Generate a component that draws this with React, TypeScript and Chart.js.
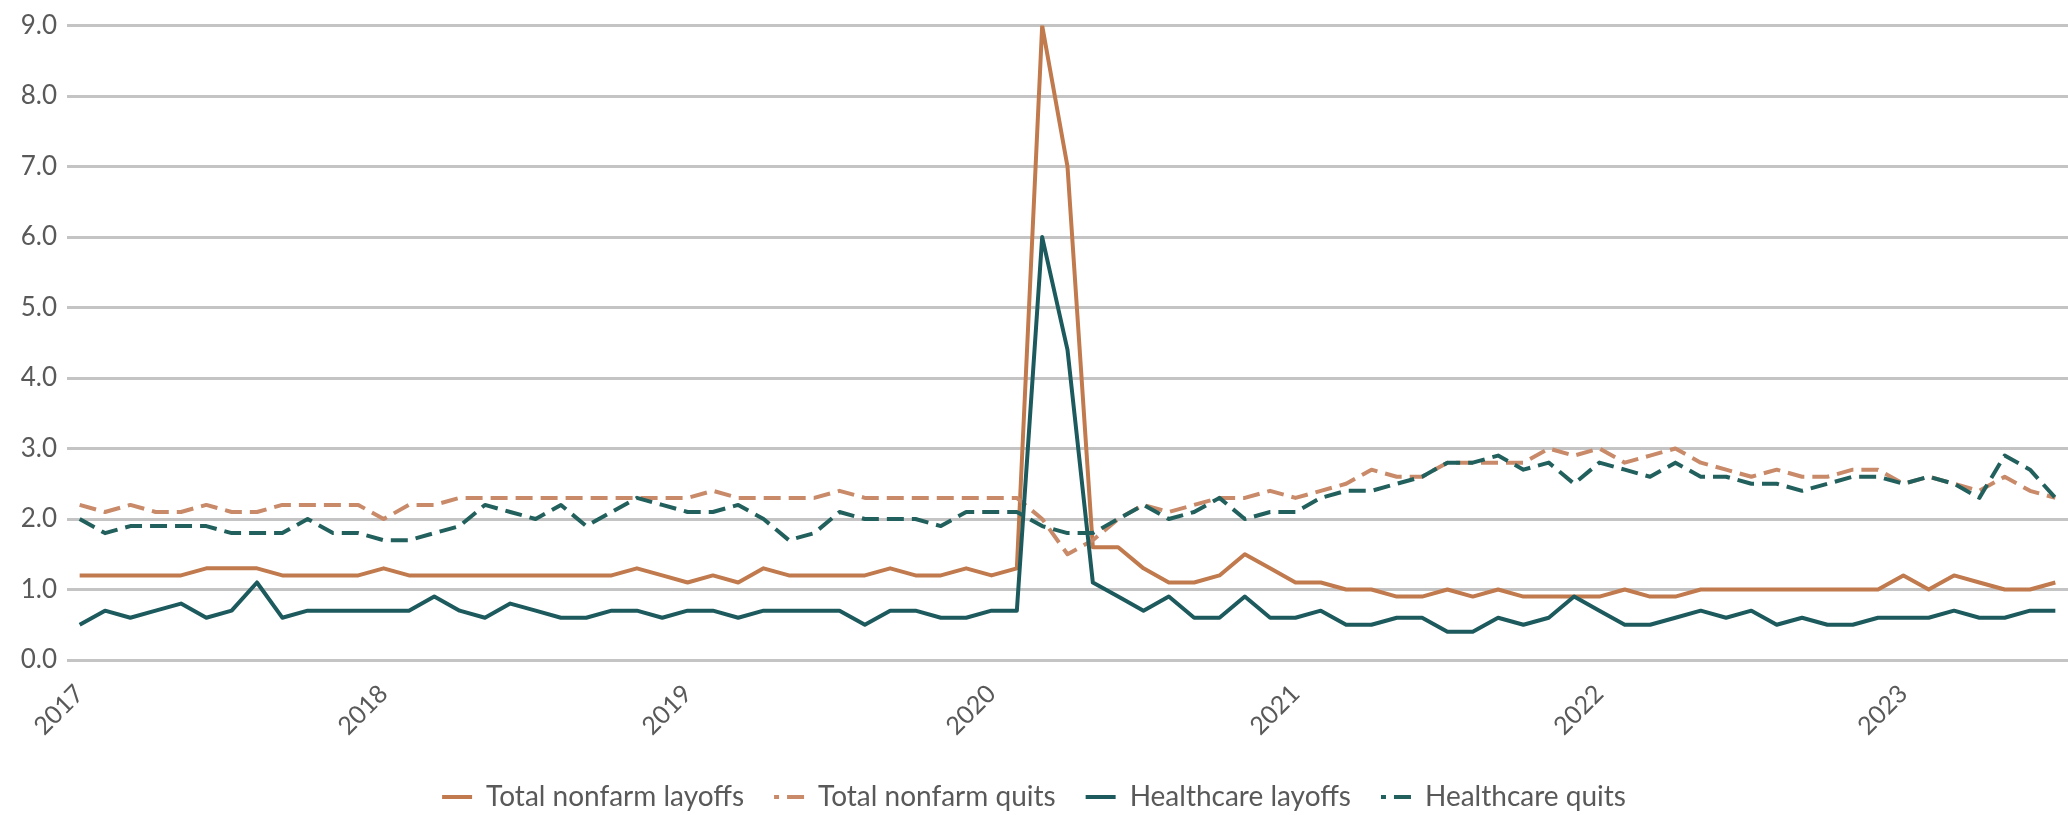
import { useEffect, useRef } from 'react';
import { Chart, registerables } from 'chart.js';

Chart.register(...registerables);

// Monthly rates (%), January 2017 through July 2023
const START_YEAR = 2017;
const MONTH_COUNT = 79;
const monthLabels: string[] = Array.from(
  { length: MONTH_COUNT },
  (_, i) => `${START_YEAR + Math.floor(i / 12)}-${String((i % 12) + 1).padStart(2, '0')}`
);

const totalNonfarmLayoffs = [
  1.2, 1.2, 1.2, 1.2, 1.2, 1.3, 1.3, 1.3, 1.2, 1.2, 1.2, 1.2,
  1.3, 1.2, 1.2, 1.2, 1.2, 1.2, 1.2, 1.2, 1.2, 1.2, 1.3, 1.2,
  1.1, 1.2, 1.1, 1.3, 1.2, 1.2, 1.2, 1.2, 1.3, 1.2, 1.2, 1.3,
  1.2, 1.3, 9.0, 7.0, 1.6, 1.6, 1.3, 1.1, 1.1, 1.2, 1.5, 1.3,
  1.1, 1.1, 1.0, 1.0, 0.9, 0.9, 1.0, 0.9, 1.0, 0.9, 0.9, 0.9,
  0.9, 1.0, 0.9, 0.9, 1.0, 1.0, 1.0, 1.0, 1.0, 1.0, 1.0, 1.0,
  1.2, 1.0, 1.2, 1.1, 1.0, 1.0, 1.1,
];

const totalNonfarmQuits = [
  2.2, 2.1, 2.2, 2.1, 2.1, 2.2, 2.1, 2.1, 2.2, 2.2, 2.2, 2.2,
  2.0, 2.2, 2.2, 2.3, 2.3, 2.3, 2.3, 2.3, 2.3, 2.3, 2.3, 2.3,
  2.3, 2.4, 2.3, 2.3, 2.3, 2.3, 2.4, 2.3, 2.3, 2.3, 2.3, 2.3,
  2.3, 2.3, 2.0, 1.5, 1.7, 2.0, 2.2, 2.1, 2.2, 2.3, 2.3, 2.4,
  2.3, 2.4, 2.5, 2.7, 2.6, 2.6, 2.8, 2.8, 2.8, 2.8, 3.0, 2.9,
  3.0, 2.8, 2.9, 3.0, 2.8, 2.7, 2.6, 2.7, 2.6, 2.6, 2.7, 2.7,
  2.5, 2.6, 2.5, 2.4, 2.6, 2.4, 2.3,
];

const healthcareLayoffs = [
  0.5, 0.7, 0.6, 0.7, 0.8, 0.6, 0.7, 1.1, 0.6, 0.7, 0.7, 0.7,
  0.7, 0.7, 0.9, 0.7, 0.6, 0.8, 0.7, 0.6, 0.6, 0.7, 0.7, 0.6,
  0.7, 0.7, 0.6, 0.7, 0.7, 0.7, 0.7, 0.5, 0.7, 0.7, 0.6, 0.6,
  0.7, 0.7, 6.0, 4.4, 1.1, 0.9, 0.7, 0.9, 0.6, 0.6, 0.9, 0.6,
  0.6, 0.7, 0.5, 0.5, 0.6, 0.6, 0.4, 0.4, 0.6, 0.5, 0.6, 0.9,
  0.7, 0.5, 0.5, 0.6, 0.7, 0.6, 0.7, 0.5, 0.6, 0.5, 0.5, 0.6,
  0.6, 0.6, 0.7, 0.6, 0.6, 0.7, 0.7,
];

const healthcareQuits = [
  2.0, 1.8, 1.9, 1.9, 1.9, 1.9, 1.8, 1.8, 1.8, 2.0, 1.8, 1.8,
  1.7, 1.7, 1.8, 1.9, 2.2, 2.1, 2.0, 2.2, 1.9, 2.1, 2.3, 2.2,
  2.1, 2.1, 2.2, 2.0, 1.7, 1.8, 2.1, 2.0, 2.0, 2.0, 1.9, 2.1,
  2.1, 2.1, 1.9, 1.8, 1.8, 2.0, 2.2, 2.0, 2.1, 2.3, 2.0, 2.1,
  2.1, 2.3, 2.4, 2.4, 2.5, 2.6, 2.8, 2.8, 2.9, 2.7, 2.8, 2.5,
  2.8, 2.7, 2.6, 2.8, 2.6, 2.6, 2.5, 2.5, 2.4, 2.5, 2.6, 2.6,
  2.5, 2.6, 2.5, 2.3, 2.9, 2.7, 2.3,
];

const seriesNames = [
  'Total nonfarm layoffs',
  'Total nonfarm quits',
  'Healthcare layoffs',
  'Healthcare quits',
];

const ORANGE = '#C07A4D';
const ORANGE_LIGHT = '#C88A69';
const TEAL = '#1D5A5E';
const TEAL_QUITS = '#22605D';
const TEXT = '#595959';
const FONT_FAMILY = 'Lato, "Liberation Sans", sans-serif';
const DASH = [17, 8];
const LEGEND_FONT = 28;

export default function App() {
  const canvasRef = useRef<HTMLCanvasElement | null>(null);

  useEffect(() => {
    document.body.style.margin = '0';
    let chart: Chart | null = null;
    let cancelled = false;

    const build = () => {
      if (cancelled || !canvasRef.current) return;
      const line = (label: string, data: number[], color: string, dashed: boolean, order: number) => ({
        label,
        data,
        borderColor: color,
        backgroundColor: color,
        borderWidth: 4,
        borderDash: dashed ? DASH : [],
        borderCapStyle: 'butt' as const,
        borderJoinStyle: 'round' as const,
        pointRadius: 0,
        tension: 0,
        order,
      });

      chart = new Chart(canvasRef.current, {
        type: 'line',
        data: {
          labels: monthLabels,
          datasets: [
            line(seriesNames[0], totalNonfarmLayoffs, ORANGE, false, 3),
            line(seriesNames[1], totalNonfarmQuits, ORANGE_LIGHT, true, 2),
            line(seriesNames[2], healthcareLayoffs, TEAL, false, 1),
            line(seriesNames[3], healthcareQuits, TEAL_QUITS, true, 0),
          ],
        },
        options: {
          responsive: false,
          animation: false,
          layout: { padding: { top: 18, left: 0, right: 0, bottom: -6 } },
          plugins: {
            legend: {
              position: 'bottom',
              labels: {
                usePointStyle: true,
                pointStyle: 'line',
                pointStyleWidth: 30,
                padding: 30,
                color: TEXT,
                font: { family: FONT_FAMILY, size: LEGEND_FONT },
                // line-sample markers: solid for layoffs, dash + dot for quits
                generateLabels: (c: any) =>
                  c.data.datasets.map((ds: any, i: number) => ({
                    text: ds.label,
                    fillStyle: ds.borderColor,
                    strokeStyle: ds.borderColor,
                    fontColor: TEXT,
                    lineWidth: 4,
                    lineDash: ds.borderDash,
                    lineDashOffset: ds.borderDash.length ? 12 : 0,
                    lineCap: 'butt',
                    pointStyle: 'line',
                    hidden: false,
                    datasetIndex: i,
                  })),
              },
            },
            tooltip: { enabled: false },
          },
          scales: {
            x: {
              type: 'category',
              offset: true,
              grid: { display: false, drawTicks: false },
              border: { display: false },
              ticks: {
                autoSkip: false,
                minRotation: 45,
                maxRotation: 45,
                padding: 19,
                color: TEXT,
                font: { family: FONT_FAMILY, size: 25 },
                callback: (_v: any, i: number) => {
                  const m = monthLabels[i];
                  return m.endsWith('-01') ? m.slice(0, 4) : null;
                },
              },
              afterFit: (scale: any) => {
                scale.height = 8 + 61 + 30 - 6 + (LEGEND_FONT - 26) * 0;
              },
            },
            y: {
              min: 0,
              max: 9,
              grid: { color: '#C4C4C4', lineWidth: 3, drawTicks: false },
              border: { display: false },
              ticks: {
                stepSize: 1,
                padding: 10,
                color: TEXT,
                font: { family: FONT_FAMILY, size: 26 },
                callback: (v: any) => Number(v).toFixed(1),
              },
              afterFit: (scale: any) => {
                scale.width = 67;
              },
            },
          },
        },
      });
    };

    const fontsReady = (document as any).fonts?.load
      ? (document as any).fonts.load(`26px Lato`).catch(() => undefined)
      : Promise.resolve();
    fontsReady.then(build);

    return () => {
      cancelled = true;
      if (chart) chart.destroy();
    };
  }, []);

  return (
    <div style={{ width: 2068, height: 815, background: '#fff' }}>
      <canvas ref={canvasRef} width={2068} height={815} style={{ display: 'block' }} />
    </div>
  );
}
